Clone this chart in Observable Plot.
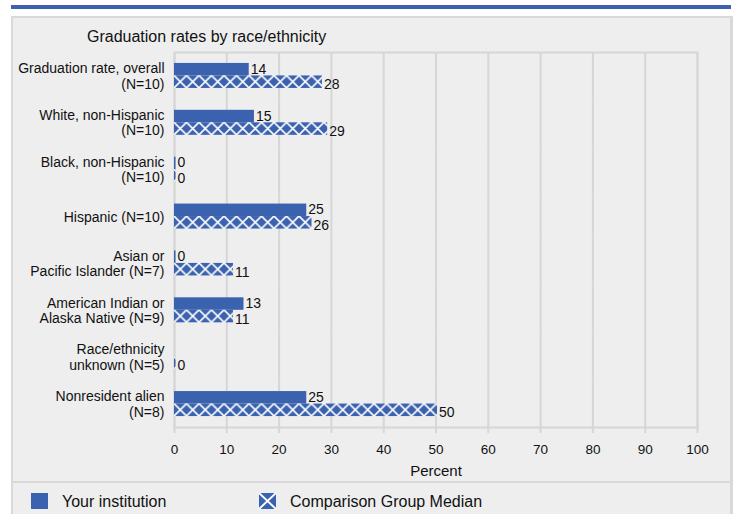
<!DOCTYPE html>
<html>
<head>
<meta charset="utf-8">
<script src="https://cdn.jsdelivr.net/npm/d3@7"></script>
<script src="https://cdn.jsdelivr.net/npm/@observablehq/plot@0.6"></script>
<style>
  html, body { margin: 0; padding: 0; background: #ffffff; }
  #wrap { position: relative; width: 737px; height: 514px; overflow: hidden; font-family: "Liberation Sans", Arial, sans-serif; color: #111; }
  #topbar { position: absolute; left: 11px; top: 5px; width: 720px; height: 4px; background: #3c61ad; }
  #panel { position: absolute; left: 11px; top: 16px; width: 722px; height: 520px; box-sizing: border-box; background: #eeeeee; border: 2px solid #d9d9d9; border-right-width: 3px; }
  #title { position: absolute; left: 87px; top: 27px; font-size: 16px; line-height: 20px; white-space: nowrap; }
  #chart { position: absolute; left: 0; top: 0; }
  #sep { position: absolute; left: 11px; top: 481px; width: 720px; height: 2px; background: #d9d9d9; }
  .sw { position: absolute; top: 493px; width: 17px; height: 16px; }
  .lt { position: absolute; top: 492px; font-size: 16px; line-height: 20px; white-space: nowrap; }
</style>
</head>
<body>
<div id="wrap">
  <div id="topbar"></div>
  <div id="panel"></div>
  <div id="title"></div>
  <div id="chart"></div>
  <div id="sep"></div>
  <svg class="sw" style="left:31px" viewBox="0 0 17 16"><rect width="17" height="16" fill="#3b62ae"/></svg>
  <div class="lt" id="lt1" style="left:62px"></div>
  <svg class="sw" style="left:259px" viewBox="0 0 17 16"><rect width="17" height="16" fill="#3b62ae"/><path d="M0,0L17,16M17,0L0,16" stroke="#fff" stroke-width="2"/></svg>
  <div class="lt" id="lt2" style="left:290px"></div>
</div>
<script>
const titleText = "Graduation rates by race/ethnicity";
const categories = [
  "Graduation rate, overall\n(N=10)",
  "White, non-Hispanic\n(N=10)",
  "Black, non-Hispanic\n(N=10)",
  "Hispanic (N=10)",
  "Asian or\nPacific Islander (N=7)",
  "American Indian or\nAlaska Native (N=9)",
  "Race/ethnicity\nunknown (N=5)",
  "Nonresident alien\n(N=8)"
];
const seriesNames = ["Your institution", "Comparison Group Median"];
const institution = [14, 15, 0, 25, 0, 13, null, 25];
const median = [28, 29, 0, 26, 11, 11, 0, 50];
const xTicks = [0, 10, 20, 30, 40, 50, 60, 70, 80, 90, 100];
const xLabel = "Percent";

const BLUE = "#3b62ae";
const GRID = "#d6d6d6";

document.getElementById("title").textContent = titleText;
document.getElementById("lt1").textContent = seriesNames[0];
document.getElementById("lt2").textContent = seriesNames[1];

const rows = categories.flatMap((c, i) => [
  {category: c, series: seriesNames[0], value: institution[i]},
  {category: c, series: seriesNames[1], value: median[i]}
]).filter(d => d.value != null);
const instRows = rows.filter(d => d.series === seriesNames[0]);
const medRows = rows.filter(d => d.series === seriesNames[1]);

const plot = Plot.plot({
  width: 737,
  height: 480,
  marginLeft: 174,
  marginRight: 40,
  marginTop: 52,
  marginBottom: 53,
  style: {background: "transparent", fontFamily: "Liberation Sans, Arial, sans-serif", fontSize: "14px", color: "#111", overflow: "visible"},
  x: {domain: [0, 100]},
  y: {domain: seriesNames, paddingInner: 0, paddingOuter: 0.875, round: false, axis: null},
  fy: {domain: categories, padding: 0, round: false},
  marks: [
    Plot.gridX(xTicks, {stroke: GRID, strokeOpacity: 1, strokeWidth: 2}),
    Plot.frame({stroke: GRID, strokeWidth: 2, facet: "super"}),
    Plot.axisX({anchor: "bottom", ticks: xTicks, tickSize: 6, tickPadding: 11, stroke: GRID, strokeWidth: 2, strokeOpacity: 1,
      fontSize: 13.5, label: null}),
    Plot.axisX({anchor: "bottom", ticks: [], tickSize: 0, fontSize: 15, label: xLabel, labelAnchor: "center", labelArrow: "none", labelOffset: 48}),
    Plot.axisFy({anchor: "left", tickSize: 0, tickPadding: 10, label: null, fontSize: 14, lineHeight: 1.1}),
    Plot.barX(instRows, {fy: "category", y: "series", x: "value", fill: BLUE, insetRight: -1.5}),
    Plot.barX(medRows, {fy: "category", y: "series", x: "value", fill: "url(#xhatch)", insetRight: -1.5}),
    Plot.text(instRows, {fy: "category", y: "series", x: "value", text: d => d.value, textAnchor: "start", dx: 3, dy: -0.5, fontSize: 14, fill: "#111"}),
    Plot.text(medRows, {fy: "category", y: "series", x: "value", text: d => d.value, textAnchor: "start", dx: 3, dy: 2.5, fontSize: 14, fill: "#111"})
  ]
});

document.getElementById("chart").appendChild(plot);

// hatch pattern aligned with the comparison bars (positions from the plot's own scales)
const ys = plot.scale("y");
const xs = plot.scale("x");
const yTop = ys.apply(seriesNames[1]);
const bw = ys.bandwidth;
const tw = 12.5;
const svg = d3.select(plot);
const pat = svg.insert("defs", ":first-child").append("pattern")
  .attr("id", "xhatch")
  .attr("patternUnits", "userSpaceOnUse")
  .attr("x", xs.apply(0))
  .attr("y", yTop)
  .attr("width", tw)
  .attr("height", bw);
pat.append("rect").attr("width", tw).attr("height", bw).attr("fill", BLUE);
pat.append("path").attr("d", `M0,0L${tw},${bw}M${tw},0L0,${bw}`).attr("stroke", "#fff").attr("stroke-width", 1.6);
</script>
</body>
</html>
